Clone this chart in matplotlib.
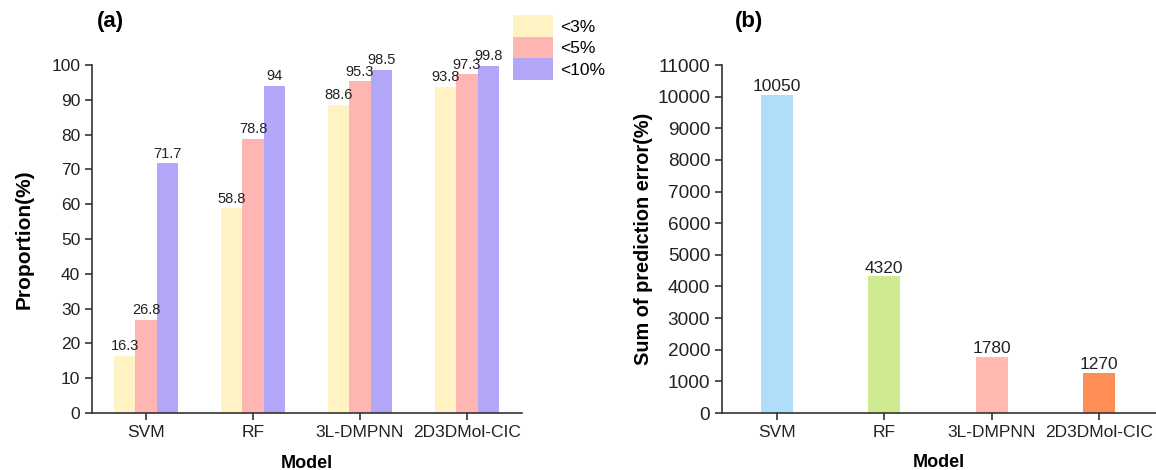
import matplotlib
matplotlib.use("Agg")
import matplotlib.pyplot as plt
import numpy as np
from matplotlib.patches import Patch

models = ["SVM", "RF", "3L-DMPNN", "2D3DMol-CIC"]
series_names = ["<3%", "<5%", "<10%"]
p3 = [16.3, 58.8, 88.6, 93.8]
p5 = [26.8, 78.8, 95.3, 97.3]
p10 = [71.7, 94, 98.5, 99.8]
err_sum = [10050, 4320, 1780, 1270]

cols_a = ["#FFF3C4", "#FFB5B2", "#B1A6F8"]
cols_b = ["#B0DEFA", "#CFE991", "#FFB9B1", "#FF8E56"]

plt.rcParams['font.family'] = ['Liberation Sans', 'DejaVu Sans']

W, H = 1156, 470
fig = plt.figure(figsize=(W/100, H/100), dpi=100)

def pos(l, r, b, t):
    return [l/W, 1-b/H, (r-l)/W, (b-t)/H]

ax1 = fig.add_axes(pos(92, 522, 413, 65))
ax2 = fig.add_axes(pos(722, 1156, 413, 65))

x = np.arange(len(models))
w = 0.2
for i, (vals, c) in enumerate(zip([p3, p5, p10], cols_a)):
    xs = x + (i-1)*w
    ax1.bar(xs, vals, width=w, color=c, label=series_names[i])
    for xi, v in zip(xs, vals):
        ax1.text(xi, v+0.8, f"{v:g}", ha='center', va='bottom', fontsize=10.5, color='#222222')
ax1.set_xlim(-0.505, 3.514)
ax1.set_ylim(0, 100)
ax1.set_yticks(range(0, 101, 10))
ax1.set_xticks(x)
ax1.set_xticklabels(models)
ax1.set_ylabel("Proportion(%)", fontsize=15, fontweight='bold', labelpad=13)
ax1.set_xlabel("Model", fontsize=13, fontweight='bold', labelpad=11)

ax2.bar(x, err_sum, width=0.3, color=cols_b)
for xi, v in zip(x, err_sum):
    ax2.text(xi, v+20, f"{v}", ha='center', va='bottom', fontsize=12.5, color='#222222')
ax2.set_xlim(-0.51, 3.53)
ax2.set_ylim(0, 11000)
ax2.set_yticks(range(0, 11001, 1000))
ax2.set_xticks(x)
ax2.set_xticklabels(models)
ax2.set_ylabel("Sum of prediction error(%)", fontsize=14.3, fontweight='bold', labelpad=3)
ax2.set_xlabel("Model", fontsize=13, fontweight='bold', labelpad=10)

for ax in (ax1, ax2):
    for s in ('top', 'right'):
        ax.spines[s].set_visible(False)
    for s in ('left', 'bottom'):
        ax.spines[s].set_linewidth(1.2)
        ax.spines[s].set_color('#333333')
    ax.tick_params(axis='both', direction='out', length=5, width=1.2, color='#333333', labelsize=12.5, labelcolor='#222222')
ax2.tick_params(axis='y', labelsize=13.7)

fig.text(97/W, 1-21/H, "(a)", fontsize=16, fontweight='bold', va='center', ha='left')
fig.text(735/W, 1-21/H, "(b)", fontsize=16, fontweight='bold', va='center', ha='left')

handles = [Patch(facecolor=c, label=n) for c, n in zip(cols_a, series_names)]
fig.legend(handles=handles, loc='upper left', bbox_to_anchor=(506/W, 1-8/H), frameon=False,
           fontsize=12.5, handlelength=2.3, handleheight=1.55, labelspacing=0.0, handletextpad=0.4,
           borderaxespad=0)

fig.savefig("out.png", dpi=100)
